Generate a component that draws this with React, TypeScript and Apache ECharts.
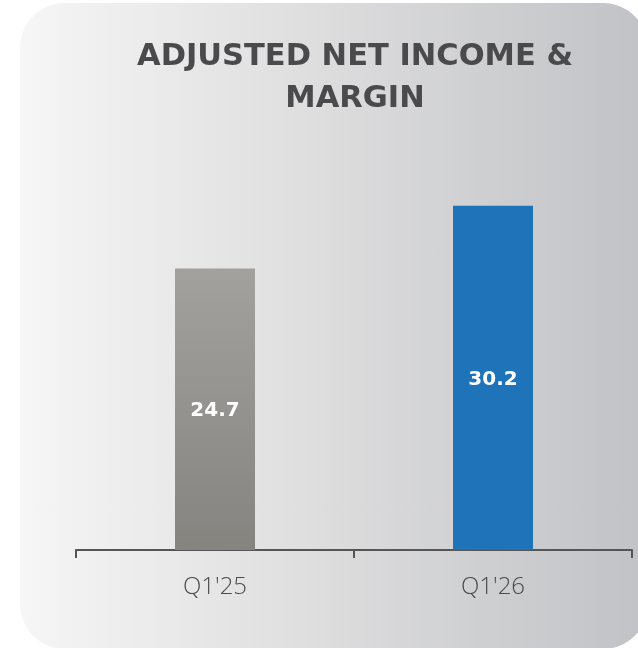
import React, { useEffect, useRef } from "react";
import * as echarts from "echarts";

const categories = ["Q1'25", "Q1'26"];
const values = [24.7, 30.2];
const titleLines = ["ADJUSTED NET INCOME &", "MARGIN"];

export default function App() {
  const ref = useRef<HTMLDivElement>(null);
  useEffect(() => {
    if (!ref.current) return;
    const chart = echarts.init(ref.current, null, { renderer: "svg" });
    const barColors = [
      new echarts.graphic.LinearGradient(0, 0, 0, 1, [
        { offset: 0, color: "#a3a19e" },
        { offset: 1, color: "#86847f" },
      ]),
      "#1e73b9",
    ];
    chart.setOption({
      animation: false,
      graphic: [
        {
          type: "rect",
          z: -10,
          silent: true,
          shape: { x: 20, y: 3, width: 628, height: 646, r: 45 },
          style: {
            fill: new echarts.graphic.LinearGradient(0, 0, 1, 0, [
              { offset: 0, color: "#f6f6f6" },
              { offset: 0.5, color: "#dcdcdd" },
              { offset: 1, color: "#c1c2c6" },
            ]),
          },
        },
        {
          type: "text",
          x: 355,
          y: 33,
          style: {
            text: titleLines.join("\n"),
            textAlign: "center",
            fontFamily: "DejaVu Sans",
            fontWeight: "bold",
            fontSize: 30.5,
            lineHeight: 42,
            fill: "#4a4a4c",
          },
        },
      ],
      grid: { left: 76, right: 6, top: 151, bottom: 98 },
      xAxis: {
        type: "category",
        data: categories,
        axisLine: { lineStyle: { color: "#555555", width: 2 } },
        axisTick: { show: true, length: 8, lineStyle: { color: "#555555", width: 2 } },
        axisLabel: {
          margin: 22,
          fontFamily: "Open Sans",
          fontWeight: 300,
          fontSize: 24,
          color: "#4a4a4a",
        },
      },
      yAxis: {
        type: "value",
        min: 0,
        max: 35,
        show: false,
        splitLine: { show: false },
      },
      series: [
        {
          type: "bar",
          barWidth: 80,
          data: values.map((v, i) => ({ value: v, itemStyle: { color: barColors[i] } })),
          label: {
            show: true,
            position: "inside",
            color: "#ffffff",
            fontFamily: "DejaVu Sans",
            fontWeight: "bold",
            fontSize: 20,
          },
        },
      ],
    });
    return () => chart.dispose();
  }, []);
  return (
    <div
      ref={ref}
      style={{ position: "fixed", left: 0, top: 0, width: 638, height: 648 }}
    />
  );
}
